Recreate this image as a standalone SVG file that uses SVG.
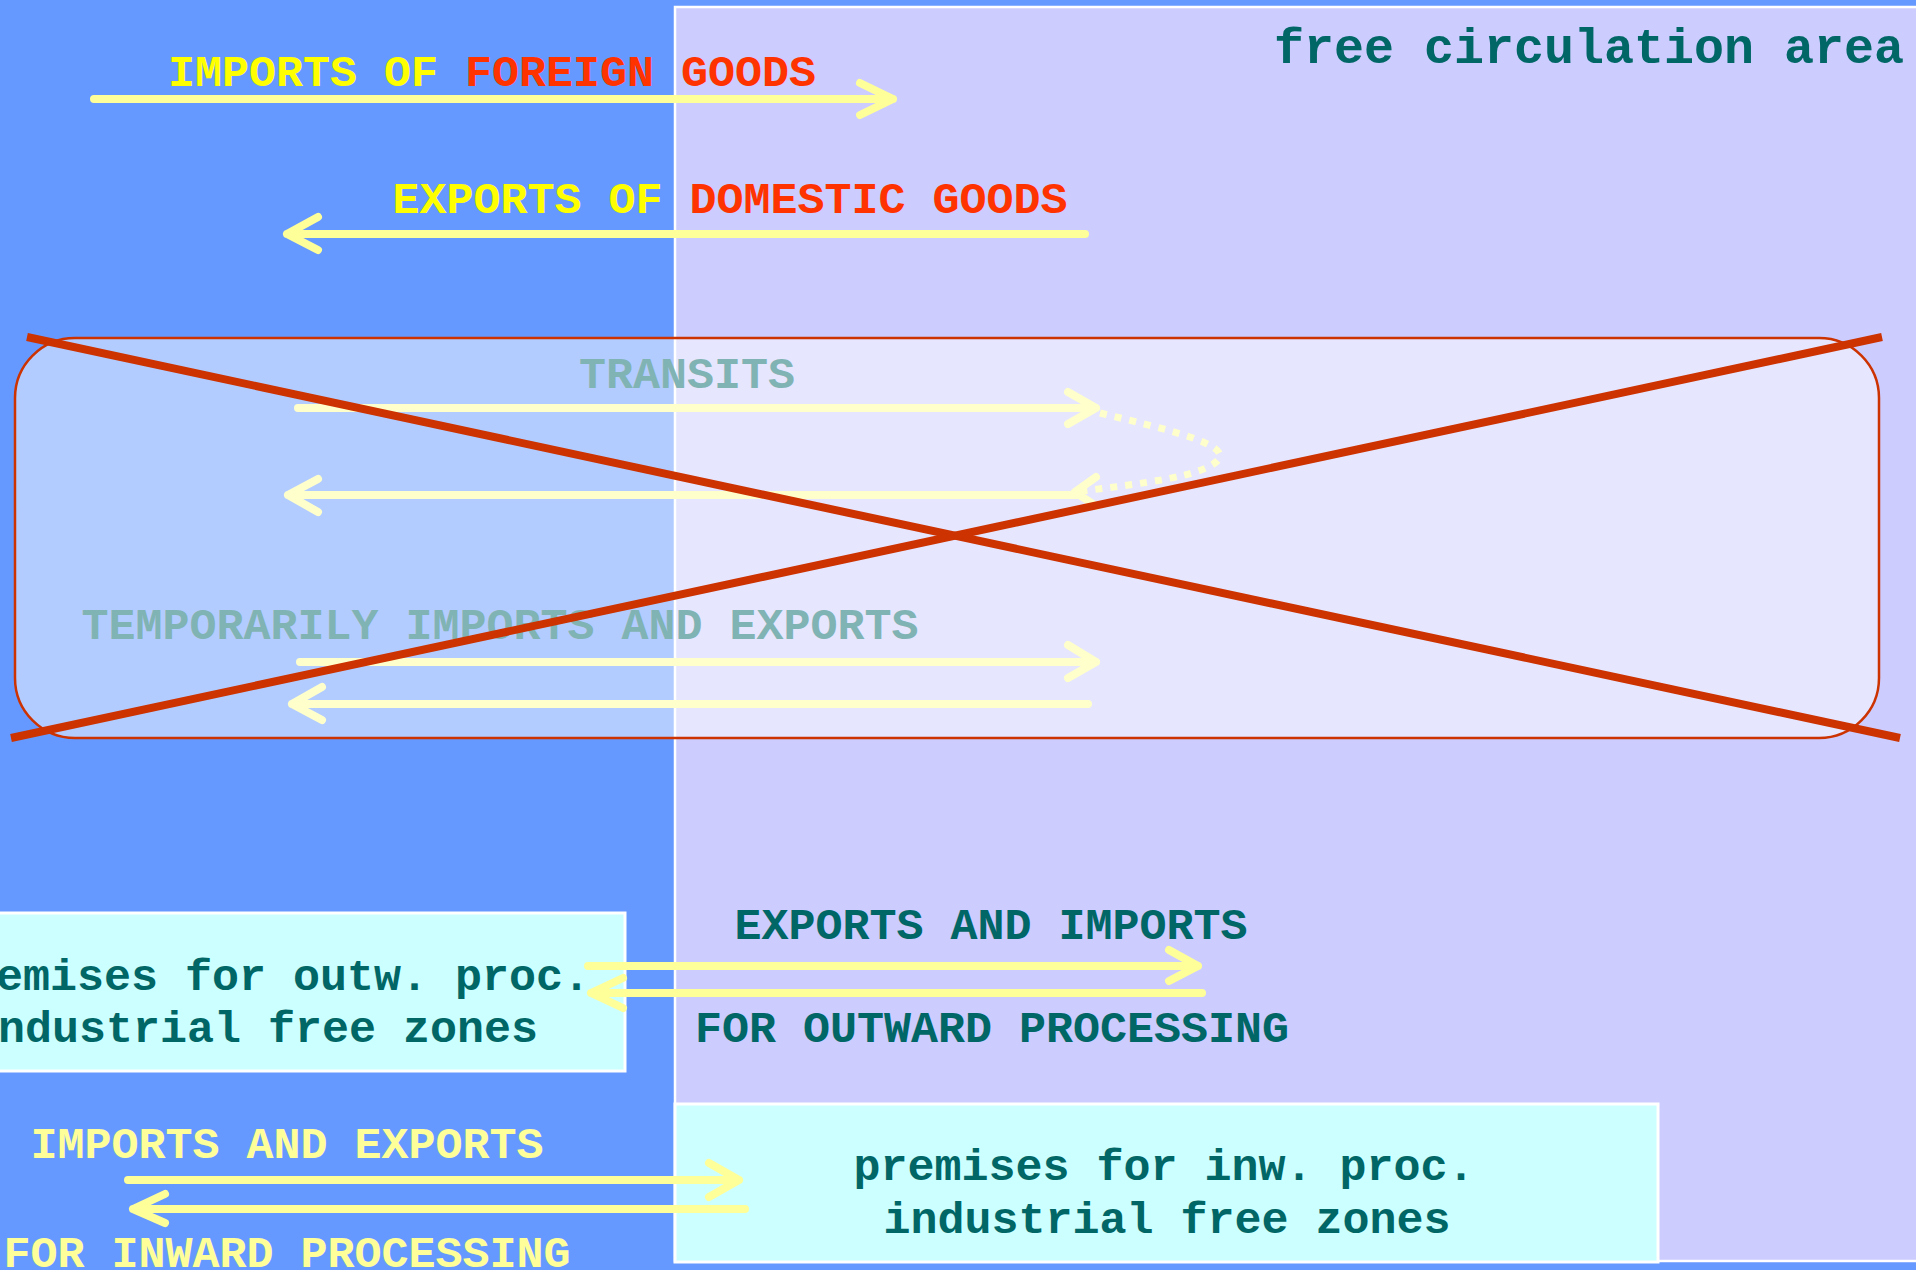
<svg xmlns="http://www.w3.org/2000/svg" width="1916" height="1270" viewBox="0 0 1916 1270">
<style>
.t{font-family:"Liberation Mono","Courier New",monospace;font-weight:bold;font-size:45px}
.teal{fill:#006666}
.yel{fill:#FFFF00}
.red{fill:#FF3300}
.pale{fill:#FFFF99}
.arr{stroke:#FFFF99;stroke-width:8;fill:none;stroke-linecap:round;stroke-linejoin:round}
.box{fill:#CCFFFF;stroke:#FFFFFF;stroke-width:3}
</style>
<rect x="0" y="0" width="1916" height="1270" fill="#6699FF"/>
<g id="free-circulation-area">
<rect x="675" y="7" width="1300" height="1254" fill="#CCCCFF" stroke="#FFFFFF" stroke-width="2.5"/>
<text class="t teal" x="1589" y="63" text-anchor="middle" style="font-size:50px">free circulation area</text>
</g>
<g id="imports-label">
<text class="t" x="492" y="86" text-anchor="middle"><tspan class="yel">IMPORTS OF </tspan><tspan class="red">FOREIGN GOODS</tspan></text>
</g>
<g id="exports-label">
<text class="t" x="730" y="213" text-anchor="middle"><tspan class="yel">EXPORTS OF </tspan><tspan class="red">DOMESTIC GOODS</tspan></text>
</g>
<g id="connectors">
<path class="arr" d="M94,99 L893,99 M860,83 L893,99 L860,115"/>
<path class="arr" d="M1085,234 L287,234 M318,217 L287,234 L318,250"/>
<path class="arr" d="M298,408 L1096,408 M1068,392 L1096,408 L1068,424"/>
<path class="arr" d="M1078,495 L288,495 M318,479 L288,495 L318,512"/>
<path d="M1100,413 C1165,429 1232,444 1218,460 C1205,476 1140,484 1082,491" fill="none" stroke="#FFFF99" stroke-width="7" stroke-dasharray="7 8"/>
<path class="arr" d="M1096,477 L1075,492 L1096,506"/>
<path class="arr" d="M300,662 L1096,662 M1068,645 L1096,662 L1068,678"/>
<path class="arr" d="M1088,704 L292,704 M322,687 L292,704 L322,720"/>
</g>
<g id="transits-label">
<text class="t teal" x="687" y="388" text-anchor="middle">TRANSITS</text>
</g>
<g id="temporarily-label">
<text class="t teal" x="500" y="639" text-anchor="middle">TEMPORARILY IMPORTS AND EXPORTS</text>
</g>
<g id="crossed-box">
<rect x="15" y="338" width="1864" height="400" rx="60" ry="60" fill="#FFFFFF" fill-opacity="0.5" stroke="#CC3300" stroke-width="2.5"/>
<line x1="27" y1="337" x2="1900" y2="738" stroke="#CC3300" stroke-width="8"/>
<line x1="11" y1="738" x2="1882" y2="337" stroke="#CC3300" stroke-width="8"/>
</g>
<g id="outward-premises">
<rect class="box" x="-10" y="913" width="635" height="158"/>
<text class="t teal" x="-58" y="990">premises for outw. proc.</text>
<text class="t teal" x="-29" y="1042">industrial free zones</text>
</g>
<g id="inward-premises">
<rect class="box" x="675" y="1104" width="983" height="158"/>
<text class="t teal" x="1164" y="1180" text-anchor="middle">premises for inw. proc.</text>
<text class="t teal" x="1167" y="1233" text-anchor="middle">industrial free zones</text>
</g>
<g id="outward-labels">
<text class="t teal" x="991" y="939" text-anchor="middle">EXPORTS AND IMPORTS</text>
<text class="t teal" x="992" y="1042" text-anchor="middle">FOR OUTWARD PROCESSING</text>
</g>
<g id="inward-labels">
<text class="t pale" x="287" y="1158" text-anchor="middle">IMPORTS AND EXPORTS</text>
<text class="t pale" x="287" y="1267" text-anchor="middle">FOR INWARD PROCESSING</text>
</g>
<g id="connectors-processing">
<path class="arr" d="M588,966 L1198,966 M1169,950 L1198,966 L1169,981"/>
<path class="arr" d="M1202,993 L591,993 M623,978 L591,993 L623,1008"/>
<path class="arr" d="M128,1180 L739,1180 M709,1163 L739,1180 L709,1197"/>
<path class="arr" d="M745,1209 L133,1209 M165,1194 L133,1209 L165,1223"/>
</g>
</svg>
